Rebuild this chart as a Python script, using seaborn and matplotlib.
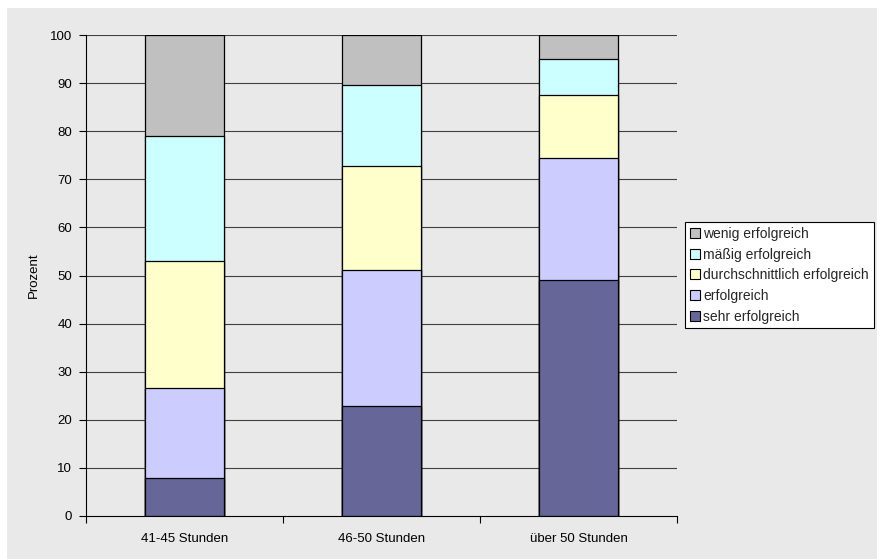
import matplotlib
matplotlib.use("Agg")
import matplotlib.pyplot as plt
import seaborn as sns
import pandas as pd
import numpy as np
from matplotlib.patches import Patch, Rectangle

categories = ["41-45 Stunden", "46-50 Stunden", "über 50 Stunden"]
series = ["sehr erfolgreich", "erfolgreich", "durchschnittlich erfolgreich",
          "mäßig erfolgreich", "wenig erfolgreich"]
sehr = [7.9, 22.9, 49.0]
erfolg = [18.7, 28.3, 25.4]
durch = [26.4, 21.5, 13.1]
maessig = [26.0, 17.0, 7.6]
wenig = [21.0, 10.3, 4.9]
colors = ["#666699", "#ccccff", "#ffffcc", "#ccffff", "#c0c0c0"]

sns.set_theme(style="white")
plt.rcParams['font.family'] = ['Liberation Sans', 'DejaVu Sans']

values = np.array([sehr, erfolg, durch, maessig, wenig])
cum = np.cumsum(values, axis=0)

fig = plt.figure(figsize=(8.77, 5.59), dpi=100, facecolor="white")
fig.patches.append(Rectangle((7/877, 0), 1 - 7/877, 1 - 8/559, transform=fig.transFigure,
                             facecolor="#e9e9e9", edgecolor="none", zorder=-10))
ax = fig.add_axes([86/877, 43/559, 591/877, 481/559])
ax.set_facecolor("#e9e9e9")

for y in range(10, 101, 10):
    ax.axhline(y, color="#404040", lw=0.8, zorder=0)

for i in range(len(series) - 1, -1, -1):
    df = pd.DataFrame({"Kategorie": categories, "Wert": cum[i]})
    sns.barplot(data=df, x="Kategorie", y="Wert", color=colors[i], saturation=1,
                width=0.396, edgecolor="black", linewidth=0.9, ax=ax, zorder=2)

ax.set_xlim(-0.5, 2.5)
ax.set_ylim(0, 100)
ax.set_yticks(range(0, 101, 10))
ax.set_xlabel("")
ax.set_ylabel("Prozent", fontsize=9.5, color="black", labelpad=7)
ax.tick_params(axis="y", direction="out", length=5, width=0.8, color="black",
               labelsize=9.5, labelcolor="black", left=True, pad=5)
ax.set_xticks([0, 1, 2])
ax.set_xticklabels(categories, fontsize=9.5, color="black")
ax.tick_params(axis="x", length=0, pad=12)
ax.set_xticks([-0.5, 0.5, 1.5, 2.5], minor=True)
ax.tick_params(axis="x", which="minor", direction="out", length=5, width=0.8, color="black", bottom=True)

for s in ["top", "right"]:
    ax.spines[s].set_visible(False)
for s in ["left", "bottom"]:
    ax.spines[s].set_color("black")
    ax.spines[s].set_linewidth(0.8)

handles = [Patch(facecolor=colors[i], edgecolor="black", linewidth=0.8, label=series[i])
           for i in range(len(series) - 1, -1, -1)]
leg = fig.legend(handles=handles, loc="upper left", bbox_to_anchor=(685/877, 1 - 222/559),
                 fontsize=10, frameon=True, fancybox=False, framealpha=1,
                 edgecolor="black", handlelength=0.7, handleheight=0.7,
                 handletextpad=0.25, labelspacing=0.48, borderpad=0.35, borderaxespad=0)
leg.get_frame().set_linewidth(0.8)
leg.get_frame().set_facecolor("white")

fig.savefig("out.png", dpi=100, facecolor=fig.get_facecolor())
